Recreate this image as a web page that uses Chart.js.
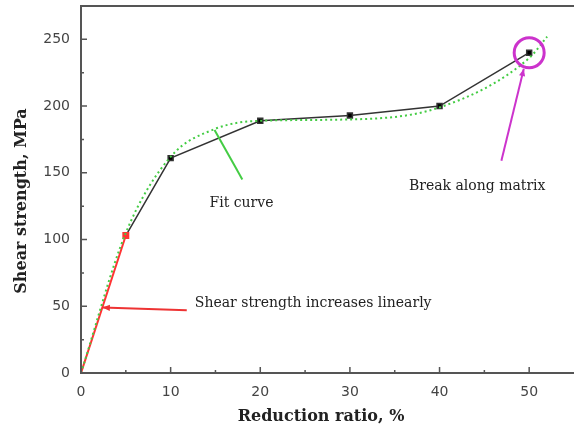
<!DOCTYPE html>
<html>
<head>
<meta charset="utf-8">
<script src="https://cdn.jsdelivr.net/npm/chart.js@4"></script>
<style>
  html, body { margin: 0; padding: 0; overflow: hidden; background: #fff; }
</style>
</head>
<body>
<canvas id="shearChart" width="580" height="438"></canvas>
<script>
// measured points (reduction ratio %, shear strength MPa)
const ratio = [5, 10, 20, 30, 40, 50];
const strength = [103, 161, 189, 193, 200, 240];
// linear start segment
const linRatio = [0, 5];
const linStrength = [0, 103];
// fit curve
const fitRatio = [0, 5, 10, 15, 20, 30, 40, 50, 52];
const fitStrength = [0, 105, 162, 183, 189, 190, 199, 236, 252];
const xTicks = [0, 10, 20, 30, 40, 50];
const yTicks = [0, 50, 100, 150, 200, 250];

const toXY = (xs, ys) => xs.map((x, i) => ({ x: x, y: ys[i] }));

// annotations, in data units
const notes = [
  { text: "Fit curve", x: 17.9, y: 127, from: [18.0, 145], to: [14.9, 182], color: "#44cc44", head: false },
  { text: "Shear strength increases linearly", x: 12.7, y: 52, align: "left", from: [11.8, 47], to: [2.4, 49], color: "#ee3333", head: true },
  { text: "Break along matrix", x: 44.2, y: 140, from: [46.9, 159], to: [49.4, 228], color: "#cc33cc", head: true },
];

const framePlugin = {
  id: "frame",
  afterDraw(chart) {
    const { ctx, chartArea: a, scales: { x, y } } = chart;
    ctx.save();
    ctx.strokeStyle = "#555";
    ctx.lineWidth = 2;
    ctx.beginPath();
    ctx.moveTo(a.right + 10, a.top);
    ctx.lineTo(a.left, a.top);
    ctx.lineTo(a.left, a.bottom);
    ctx.lineTo(a.right + 10, a.bottom);
    ctx.stroke();
    // inward ticks
    ctx.lineWidth = 1.5;
    ctx.beginPath();
    for (let v = 5; v < x.max; v += 5) {
      const px = x.getPixelForValue(v);
      const len = v % 10 === 0 ? 6 : 3;
      ctx.moveTo(px, a.bottom);
      ctx.lineTo(px, a.bottom - len);
    }
    for (let v = 25; v < y.max; v += 25) {
      const py = y.getPixelForValue(v);
      const len = v % 50 === 0 ? 6 : 3;
      ctx.moveTo(a.left, py);
      ctx.lineTo(a.left + len, py);
    }
    ctx.stroke();

    // axis titles
    ctx.fillStyle = "#222";
    ctx.font = "bold 16px 'DejaVu Serif', serif";
    ctx.textAlign = "center";
    ctx.textBaseline = "middle";
    ctx.fillText("Reduction ratio, %", 321, 417);
    ctx.save();
    ctx.translate(22, 201);
    ctx.rotate(-Math.PI / 2);
    ctx.fillText("Shear strength, MPa", 0, 0);
    ctx.restore();

    // annotations
    ctx.font = "14px 'DejaVu Serif', serif";
    notes.forEach((n) => {
      const x0 = x.getPixelForValue(n.from[0]), y0 = y.getPixelForValue(n.from[1]);
      const x1 = x.getPixelForValue(n.to[0]), y1 = y.getPixelForValue(n.to[1]);
      ctx.strokeStyle = n.color;
      ctx.fillStyle = n.color;
      ctx.lineWidth = 2;
      ctx.beginPath();
      ctx.moveTo(x0, y0);
      ctx.lineTo(x1, y1);
      ctx.stroke();
      if (n.head) {
        const ang = Math.atan2(y1 - y0, x1 - x0);
        ctx.beginPath();
        ctx.moveTo(x1, y1);
        ctx.lineTo(x1 - 8 * Math.cos(ang - 0.4), y1 - 8 * Math.sin(ang - 0.4));
        ctx.lineTo(x1 - 8 * Math.cos(ang + 0.4), y1 - 8 * Math.sin(ang + 0.4));
        ctx.closePath();
        ctx.fill();
      }
      ctx.fillStyle = "#222";
      ctx.textAlign = n.align || "center";
      ctx.fillText(n.text, x.getPixelForValue(n.x), y.getPixelForValue(n.y));
    });

    // circle around the break point
    ctx.strokeStyle = "#cc33cc";
    ctx.lineWidth = 3;
    ctx.beginPath();
    ctx.arc(x.getPixelForValue(50), y.getPixelForValue(240), 15, 0, Math.PI * 2);
    ctx.stroke();
    ctx.restore();
  },
};

const tickFont = { family: "'DejaVu Sans', sans-serif", size: 14 };

new Chart(document.getElementById("shearChart"), {
  type: "scatter",
  data: {
    datasets: [
      {
        label: "Fit curve",
        data: toXY(fitRatio, fitStrength),
        showLine: true,
        borderColor: "#44cc44",
        borderWidth: 2,
        borderDash: [2, 3],
        pointRadius: 0,
        cubicInterpolationMode: "monotone",
      },
      {
        label: "Linear",
        data: toXY(linRatio, linStrength),
        showLine: true,
        borderColor: "#ff3333",
        backgroundColor: "#ff3333",
        borderWidth: 2,
        pointStyle: "rect",
        pointRadius: [0, 3.5],
      },
      {
        label: "Measured",
        data: toXY(ratio, strength),
        showLine: true,
        borderColor: "#333",
        backgroundColor: "#000",
        borderWidth: 1.5,
        pointStyle: "rect",
        pointRadius: [0, 3.5, 3.5, 3.5, 3.5, 3.5],
      },
    ],
  },
  options: {
    responsive: false,
    animation: false,
    layout: { padding: { top: 5, right: 2, left: 0, bottom: 0 } },
    plugins: { legend: { display: false }, tooltip: { enabled: false } },
    scales: {
      x: {
        type: "linear",
        min: 0,
        max: 55,
        grid: { display: false, drawTicks: false },
        border: { display: false },
        afterBuildTicks: (s) => { s.ticks = xTicks.map((v) => ({ value: v })); },
        afterFit: (s) => { s.height = 65; s.paddingLeft = 0; s.paddingRight = 0; },
        ticks: { padding: 11, color: "#444", font: tickFont, maxRotation: 0 },
      },
      y: {
        min: 0,
        max: 275,
        grid: { display: false, drawTicks: false },
        border: { display: false },
        afterBuildTicks: (s) => { s.ticks = yTicks.map((v) => ({ value: v })); },
        afterFit: (s) => { s.width = 81; s.paddingTop = 0; s.paddingBottom = 0; },
        ticks: { padding: 11, color: "#444", font: tickFont },
      },
    },
  },
  plugins: [framePlugin],
});
</script>
</body>
</html>
